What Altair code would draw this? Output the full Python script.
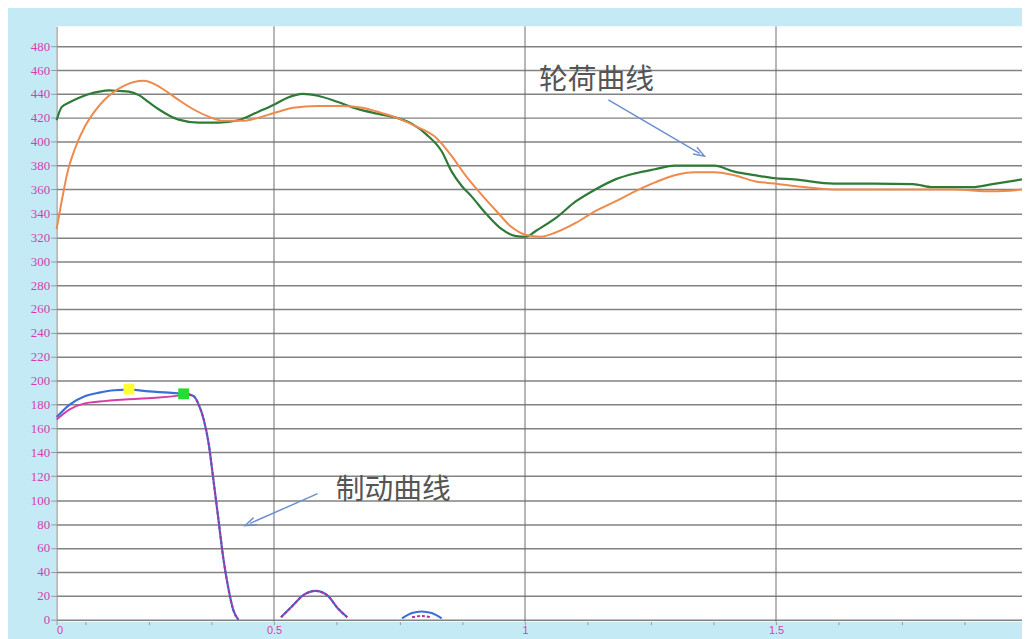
import altair as alt
import pandas as pd

# ---- data ----
green_t = [0.067, 0.077, 0.093, 0.113, 0.132, 0.152, 0.172, 0.192, 0.211, 0.231, 0.251, 0.271, 0.291, 0.310,
           0.350, 0.389, 0.429, 0.468, 0.500, 0.528, 0.557, 0.587, 0.626, 0.666, 0.706, 0.745, 0.775, 0.804,
           0.834, 0.854, 0.874, 0.893, 0.923, 0.953, 0.982, 1.002, 1.022, 1.061, 1.101, 1.140, 1.180, 1.219,
           1.259, 1.298, 1.338, 1.377, 1.417, 1.457, 1.496, 1.536, 1.615, 1.694, 1.773, 1.812, 1.891, 1.931, 1.990]
green_v = [418, 429, 433, 437, 440, 442, 443, 442.5, 442, 439, 433, 427, 422, 418.5,
           416, 416, 418, 425, 431, 437, 440, 438.5, 433.5, 427.5, 423.5, 420, 415, 406,
           392, 375, 363, 354.5, 339.5, 327, 321, 320.5, 325.5, 336, 350, 360, 368.5, 373.5,
           377, 380, 380, 380, 375, 372, 369.5, 368.5, 365, 365, 364.5, 362, 362, 364.5, 368.5]

orange_t = [0.067, 0.077, 0.089, 0.103, 0.123, 0.142, 0.162, 0.182, 0.202, 0.221, 0.241, 0.261, 0.281, 0.310,
            0.340, 0.370, 0.399, 0.439, 0.468, 0.500, 0.538, 0.587, 0.636, 0.676, 0.715, 0.745, 0.785, 0.824,
            0.854, 0.883, 0.913, 0.943, 0.972, 1.002, 1.032, 1.061, 1.101, 1.140, 1.180, 1.219, 1.259, 1.298,
            1.338, 1.377, 1.417, 1.457, 1.496, 1.536, 1.615, 1.694, 1.773, 1.852, 1.931, 1.990]
orange_v = [327, 350, 375, 393.5, 412.5, 425, 435, 442, 447, 450, 451, 448.5, 443.5, 435,
            427, 421, 417.5, 417.5, 420, 424, 428.5, 430, 430, 428.5, 424, 420, 412.5, 403,
            388, 371, 356, 342, 329, 322, 320.5, 324, 332, 342, 350, 358.5, 366, 372,
            374.5, 374.5, 372, 367, 365, 363, 360, 360, 360, 360, 358.5, 360]

# brake curves: (segment, time, value)
blue_seg = [0] * 20 + [1] * 7 + [2] * 5
blue_t = [0.067, 0.093, 0.123, 0.152, 0.182, 0.211, 0.251, 0.291, 0.320, 0.330,
          0.340, 0.350, 0.360, 0.370, 0.379, 0.389, 0.399, 0.409, 0.419, 0.429,
          0.514, 0.538, 0.557, 0.583, 0.607, 0.626, 0.646,
          0.755, 0.775, 0.794, 0.814, 0.834]
blue_v = [169.5, 180, 187, 190, 192, 192.5, 191, 190, 189, 188.5,
          187, 180, 167.5, 147, 118, 85, 51.5, 26.5, 8, 0,
          2, 12, 20, 24, 20, 10, 2,
          1, 5.5, 6.8, 5.5, 1]

# pink: segment 0 = plateau (solid), 1 = drop, 2 and 3 = small bumps
pink_seg = [0] * 8 + [1] * 11 + [2] * 7 + [3] * 3
pink_t = [0.067, 0.093, 0.123, 0.152, 0.211, 0.271, 0.310, 0.330,
          0.330, 0.340, 0.350, 0.360, 0.370, 0.379, 0.389, 0.399, 0.409, 0.419, 0.429,
          0.514, 0.538, 0.557, 0.583, 0.607, 0.626, 0.646,
          0.775, 0.794, 0.814]
pink_v = [167.5, 176, 181, 182.5, 184.5, 186, 187.5, 188.5,
          188.5, 187, 180, 167.5, 147, 118, 85, 51.5, 26.5, 8, 0,
          2, 12, 20, 24, 20, 10, 2,
          2, 3, 2]

marker_t = [0.211, 0.320]
marker_v = [193, 189]
marker_c = ["#ffff33", "#22dd33"]

y_ticks = list(range(0, 481, 20))
x_grid = [0.5, 1.0, 1.5]
x_ticks = [0.067] + [i * 0.125 for i in range(1, 16)]

labels_text = ["轮荷曲线", "制动曲线"]
labels_t = [1.028, 0.623]
labels_v = [451.7, 108.2]

arrow_t = [1.166, 0.587]
arrow_v = [435.1, 105.5]
arrow_t2 = [1.348, 0.4526]
arrow_v2 = [390.3, 80.6]
arrow_angle = [120, 246]

# ---- tables ----
green_df = pd.DataFrame({"t": green_t, "v": green_v})
orange_df = pd.DataFrame({"t": orange_t, "v": orange_v})
blue_df = pd.DataFrame({"seg": blue_seg, "t": blue_t, "v": blue_v})
pink_df = pd.DataFrame({"seg": pink_seg, "t": pink_t, "v": pink_v})
marker_df = pd.DataFrame({"t": marker_t, "v": marker_v, "c": marker_c})
grid_df = pd.DataFrame({"t": x_grid})
label_df = pd.DataFrame({"txt": labels_text, "t": labels_t, "v": labels_v})
arrow_df = pd.DataFrame({"t": arrow_t, "v": arrow_v, "t2": arrow_t2, "v2": arrow_v2, "a": arrow_angle})

xs = alt.Scale(domain=[0.067, 1.99], nice=False, zero=False)
ys = alt.Scale(domain=[-1.7, 496.6], nice=False, zero=False)

LABEL_COLOR = "#d63cb0"

x_axis = alt.Axis(
    values=x_ticks, grid=False, title=None, domain=False, labelOverlap=False,
    tickColor="#999999", tickSize=3, labelColor=LABEL_COLOR, labelFontSize=11,
    labelPadding=0, labelFont="Liberation Sans", labelBaseline="top",
    labelExpr="datum.value < 0.1 ? '0' : (abs(datum.value * 2 - round(datum.value * 2)) < 0.001 ? format(datum.value, '.1~f') : '')",
)
y_axis = alt.Axis(
    values=y_ticks, title=None, grid=True, gridColor="#828282", gridWidth=1.5,
    domainColor="#888888", tickColor="#999999", tickSize=6, labelOverlap=False,
    labelColor=LABEL_COLOR, labelFontSize=13, labelPadding=1, labelFont="Liberation Sans Narrow",
)

X = alt.X("t:Q", scale=xs, axis=x_axis)
Y = alt.Y("v:Q", scale=ys, axis=y_axis)

vgrid = alt.Chart(grid_df).mark_rule(color="#6e6e6e", strokeWidth=1).encode(x=X)

green = alt.Chart(green_df).mark_line(color="#2e7a36", strokeWidth=2.2, interpolate="monotone").encode(x=X, y=Y)
orange = alt.Chart(orange_df).mark_line(color="#ee8a4c", strokeWidth=2, interpolate="monotone").encode(x=X, y=Y)

blue = alt.Chart(blue_df).mark_line(color="#3a6fd8", strokeWidth=2.2, interpolate="monotone").encode(
    x=X, y=Y, detail="seg:N")
pink_solid = alt.Chart(pink_df).transform_filter("datum.seg == 0").mark_line(
    color="#d83aa8", strokeWidth=2, interpolate="monotone").encode(x=X, y=Y, detail="seg:N")
pink_dash = alt.Chart(pink_df).transform_filter("datum.seg > 0").mark_line(
    color="#b0309a", strokeWidth=2, strokeDash=[3, 2], interpolate="monotone").encode(x=X, y=Y, detail="seg:N")

markers = alt.Chart(marker_df).mark_square(size=120, opacity=1).encode(
    x=X, y=Y, color=alt.Color("c:N", scale=None))

arrow_lines = alt.Chart(arrow_df).mark_rule(color="#6d8fcc", strokeWidth=1.5).encode(
    x=X, y=Y, x2="t2:Q", y2="v2:Q")
arrow_heads = alt.Chart(arrow_df).mark_point(
    shape="M -0.7 1 L 0 -1 L 0.7 1", filled=False, size=120, color="#6d8fcc",
    strokeWidth=1.5, opacity=1).encode(
    x=alt.X("t2:Q", scale=xs, axis=x_axis), y=alt.Y("v2:Q", scale=ys, axis=y_axis),
    angle=alt.Angle("a:Q", scale=None))

texts = alt.Chart(label_df).mark_text(align="left", baseline="middle", fontSize=29,
                                      font="Noto Sans CJK SC", color="#555555").encode(
    x=X, y=Y, text="txt:N")

chart = alt.layer(green, vgrid, orange, blue, pink_solid, pink_dash, markers, arrow_lines, arrow_heads, texts).properties(
    width=973, height=600,
    padding={"left": 49, "top": 16, "right": 0, "bottom": 15},
    autosize=alt.AutoSizeParams(type="none"),
).configure(background="#c4ebf5").configure_view(fill="white", stroke=None).configure_axis(
    labelOverlap=False
)

chart.save("out.html", embed_options={"renderer": "svg", "actions": False})
